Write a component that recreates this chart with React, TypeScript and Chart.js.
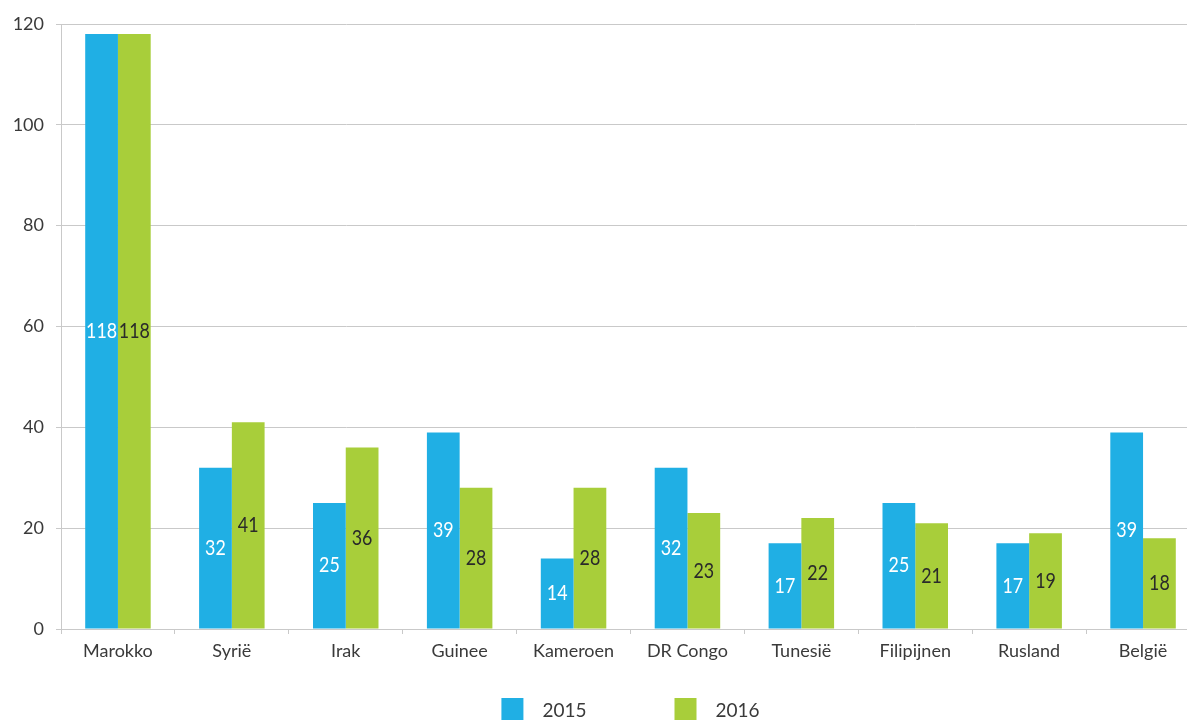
import React, { useEffect, useRef } from "react";
import { Chart, registerables } from "chart.js";

Chart.register(...registerables);

const categories = ["Marokko", "Syrië", "Irak", "Guinee", "Kameroen", "DR Congo", "Tunesië", "Filipijnen", "Rusland", "België"];
const series2015 = [118, 32, 25, 39, 14, 32, 17, 25, 17, 39];
const series2016 = [118, 41, 36, 28, 28, 23, 22, 21, 19, 18];
const seriesNames = ["2015", "2016"];
const yTicks = [0, 20, 40, 60, 80, 100, 120];

const BLUE = "#20AFE4";
const GREEN = "#A8CE3A";
const TEXT = "#3a3a3a";
const GRID = "#c9c9c9";
const FONT = "Lato";

const dataLabelsPlugin = {
  id: "dataLabels",
  afterDatasetsDraw(chart: any) {
    const ctx = chart.ctx;
    ctx.save();
    chart.data.datasets.forEach((ds: any, di: number) => {
      const meta = chart.getDatasetMeta(di);
      meta.data.forEach((bar: any, i: number) => {
        const v = ds.data[i];
        const cy = (bar.y + bar.base) / 2;
        ctx.save();
        ctx.translate(bar.x, cy);
        ctx.scale(0.85, 1);
        ctx.font = `21px ${FONT}`;
        ctx.textAlign = "center";
        ctx.textBaseline = "middle";
        ctx.fillStyle = di === 0 ? "#ffffff" : "#2a2a2a";
        ctx.fillText(String(v), 0, 0);
        ctx.restore();
      });
    });
    ctx.restore();
  },
};

const legendPlugin = {
  id: "customLegend",
  afterDraw(chart: any) {
    const ctx = chart.ctx;
    const area = chart.chartArea;
    ctx.save();
    ctx.font = `19px ${FONT}`;
    const colors = [BLUE, GREEN];
    const boxW = 22;
    const textGap = 19;
    const itemGap = 88;
    const widths = seriesNames.map((n) => boxW + textGap + ctx.measureText(n).width);
    const total = widths.reduce((a, b) => a + b, 0) + itemGap * (seriesNames.length - 1);
    let x = (area.left + area.right) / 2 - total / 2;
    const y = 698;
    seriesNames.forEach((n, i) => {
      ctx.fillStyle = colors[i];
      ctx.fillRect(x, y, boxW, 22);
      ctx.fillStyle = TEXT;
      ctx.textAlign = "left";
      ctx.textBaseline = "middle";
      ctx.fillText(n, x + boxW + textGap, 711);
      x += widths[i] + itemGap;
    });
    ctx.restore();
  },
};

export default function App() {
  const ref = useRef<HTMLCanvasElement>(null);
  useEffect(() => {
    if (!ref.current) return;
    const chart = new Chart(ref.current, {
      type: "bar",
      data: {
        labels: categories,
        datasets: [
          { label: seriesNames[0], data: series2015, backgroundColor: BLUE, categoryPercentage: 0.575, barPercentage: 1 },
          { label: seriesNames[1], data: series2016, backgroundColor: GREEN, categoryPercentage: 0.575, barPercentage: 1 },
        ],
      },
      options: {
        responsive: false,
        animation: false,
        layout: { padding: { top: 24, bottom: 43, left: 0, right: 0 } },
        plugins: { legend: { display: false }, tooltip: { enabled: false } },
        scales: {
          x: {
            afterFit: (s: any) => { s.height = 48; },
            grid: { drawOnChartArea: false, drawTicks: true, tickLength: 5, color: GRID, offset: true },
            border: { color: GRID, width: 1 },
            ticks: { color: TEXT, font: { family: FONT, size: 18 }, padding: 6 },
          },
          y: {
            min: 0,
            max: 120,
            afterFit: (s: any) => { s.width = 61; },
            afterBuildTicks: (s: any) => { s.ticks = yTicks.map((v) => ({ value: v })); },
            grid: { color: GRID, tickLength: 5 },
            border: { color: GRID, width: 1 },
            ticks: { color: TEXT, font: { family: FONT, size: 18 }, padding: 12 },
          },
        },
      },
      plugins: [dataLabelsPlugin, legendPlugin],
    });
    return () => chart.destroy();
  }, []);
  return (
    <div style={{ position: "fixed", left: 0, top: 0, width: 1187, height: 720, overflow: "hidden", background: "#fff" }}>
      <canvas ref={ref} width={1200} height={720} style={{ display: "block" }} />
    </div>
  );
}
